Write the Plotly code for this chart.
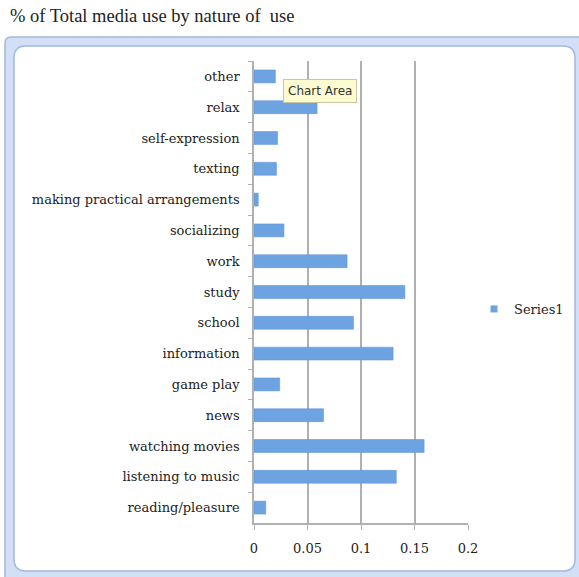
import plotly.graph_objects as go

categories = ["other", "relax", "self-expression", "texting", "making practical arrangements",
              "socializing", "work", "study", "school", "information", "game play", "news",
              "watching movies", "listening to music", "reading/pleasure"]
values = [0.020, 0.059, 0.022, 0.021, 0.004, 0.028, 0.087, 0.141, 0.093, 0.130, 0.024,
          0.065, 0.159, 0.133, 0.011]
x_ticks = [0, 0.05, 0.1, 0.15, 0.2]
x_tick_labels = ["0", "0.05", "0.1", "0.15", "0.2"]

W, H = 579, 577
L, R, T, B = 254, 468, 61, 523

def px(x):
    return (x - L) / (R - L)

def py(y):
    return (B - y) / (B - T)

def rrect(x0, y0, x1, y1, r):
    X0, X1 = px(x0), px(x1)
    Y0, Y1 = py(y0), py(y1)
    rx = r / (R - L)
    ry = r / (B - T)
    return (f"M {X0+rx},{Y0} L {X1-rx},{Y0} Q {X1},{Y0} {X1},{Y0-ry} "
            f"L {X1},{Y1+ry} Q {X1},{Y1} {X1-rx},{Y1} L {X0+rx},{Y1} "
            f"Q {X0},{Y1} {X0},{Y1+ry} L {X0},{Y0-ry} Q {X0},{Y0} {X0+rx},{Y0} Z")

BAR_COLOR = "#6ea3e2"

fig = go.Figure()
fig.add_trace(go.Bar(
    y=categories, x=values, orientation="h", name="Series1",
    marker=dict(color=BAR_COLOR, line=dict(color="#5b91d6", width=0.5)),
    width=0.42, showlegend=False,
))
# legend entry with a small square swatch
fig.add_trace(go.Scatter(
    x=[None], y=[None], mode="markers", name="Series1",
    marker=dict(symbol="square", size=7, color=BAR_COLOR), showlegend=True,
))

shapes = [
    dict(type="path", xref="paper", yref="paper", path=rrect(5, 37, 588, 584, 6),
         fillcolor="#d3dff4", line=dict(color="#a3b8df", width=1.5), layer="below"),
    dict(type="path", xref="paper", yref="paper", path=rrect(14, 46, 575, 571, 12),
         fillcolor="white", line=dict(color="#a3b8df", width=1.5), layer="below"),
]

fig.update_layout(
    width=W, height=H,
    margin=dict(l=L, r=W - R, t=T, b=H - B, autoexpand=False),
    paper_bgcolor="white", plot_bgcolor="rgba(0,0,0,0)",
    shapes=shapes,
    title=dict(text="% of Total media use by nature of  use", x=10 / W, xanchor="left",
               y=1 - 16 / H, yanchor="middle",
               font=dict(family="Liberation Serif", size=18.5, color="#222")),
    xaxis=dict(range=[0, 0.2], tickvals=x_ticks, ticktext=x_tick_labels,
               showgrid=True, gridcolor="#b0b0b0", gridwidth=1.5,
               zeroline=False, showline=True, linecolor="#b0b0b0", linewidth=1.5,
               ticks="outside", ticklen=5, tickcolor="#b0b0b0", ticklabelstandoff=8,
               tickfont=dict(family="DejaVu Serif", size=13, color="#222")),
    yaxis=dict(autorange="reversed", showgrid=False, showline=True, linecolor="#b0b0b0",
               linewidth=1.5, ticks="outside", ticklen=4, tickcolor="#b0b0b0",
               tickson="boundaries", ticklabelstandoff=10,
               tickfont=dict(family="DejaVu Serif", size=13, color="#222")),
    legend=dict(x=px(474), y=py(309), xanchor="left", yanchor="middle",
                bgcolor="rgba(0,0,0,0)",
                font=dict(family="DejaVu Serif", size=13, color="#222"),
                itemwidth=30),
    bargap=0.58,
    annotations=[dict(text="Chart Area", xref="paper", yref="paper",
                      x=px(283), y=py(91), xanchor="left", yanchor="middle",
                      showarrow=False, bgcolor="#fdfbd0", bordercolor="#c8c8a0",
                      borderwidth=1, borderpad=4,
                      font=dict(family="DejaVu Sans", size=12, color="#333"))],
)

fig.write_html("out.html")
